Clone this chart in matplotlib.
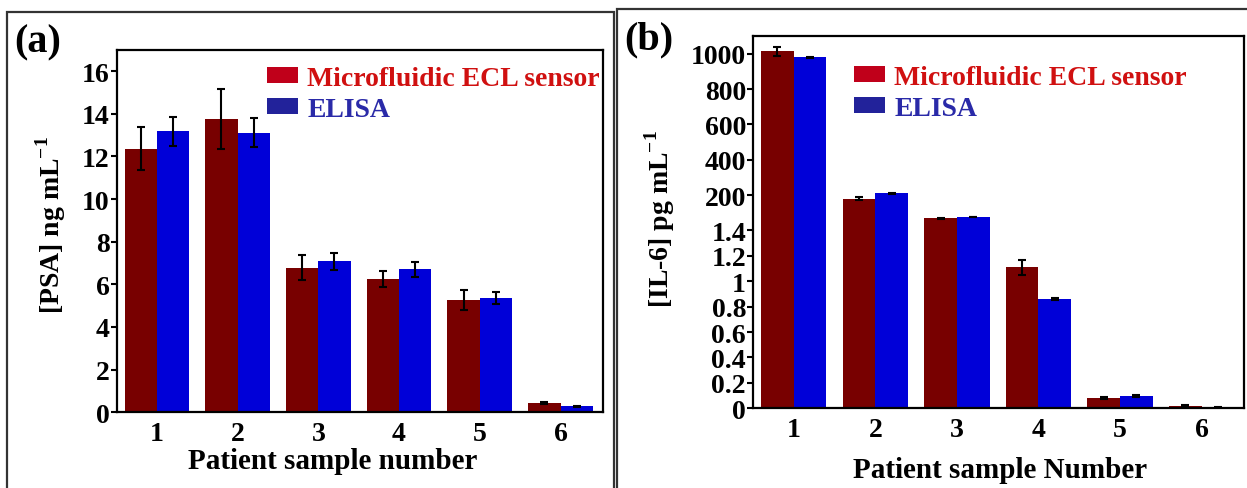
import numpy as np
import matplotlib
matplotlib.use("Agg")
import matplotlib.pyplot as plt
from matplotlib.patches import Rectangle, Patch
from matplotlib.ticker import FixedLocator, FixedFormatter

plt.rcParams['font.family'] = ['Liberation Serif', 'DejaVu Serif']
plt.rcParams['font.weight'] = 'bold'
plt.rcParams['mathtext.fontset'] = 'custom'
plt.rcParams['mathtext.rm'] = 'Liberation Serif'
plt.rcParams['mathtext.bf'] = 'Liberation Serif:bold'

# ---------------- data ----------------
samples = [1, 2, 3, 4, 5, 6]
series_names = ["Microfluidic ECL sensor", "ELISA"]

psa_ecl = [12.36, 13.75, 6.78, 6.26, 5.26, 0.42]
psa_ecl_err = [1.0, 1.4, 0.6, 0.38, 0.47, 0.05]
psa_elisa = [13.17, 13.11, 7.08, 6.70, 5.37, 0.28]
psa_elisa_err = [0.68, 0.68, 0.40, 0.36, 0.28, 0.03]
psa_yticks = [0, 2, 4, 6, 8, 10, 12, 14, 16]

il6_ecl = [1015, 179, 68, 1.11, 0.081, 0.02]
il6_ecl_err = [25, 8, 1.0, 0.06, 0.01, 0.005]
il6_elisa = [981, 211, 74, 0.86, 0.094, 0.005]
il6_elisa_err = [3, 3, 1.0, 0.005, 0.008, 0.003]
il6_yticks = [0, 0.2, 0.4, 0.6, 0.8, 1, 1.2, 1.4, 200, 400, 600, 800, 1000]
il6_yticklabels = ["0", "0.2", "0.4", "0.6", "0.8", "1", "1.2", "1.4",
                   "200", "400", "600", "800", "1000"]

# ---------------- style ----------------
C_BAR_RED = "#780000"
C_BAR_BLUE = "#0000d8"
C_LEG_RED = "#c0001a"
C_LEG_BLUE = "#22229a"
C_TXT_RED = "#d01010"
C_TXT_BLUE = "#2a2aa8"

TICK_FS = 20
LEG_FS = 20
LAB_FS = 21
YLAB_FS = 20
PANEL_FS = 29

fig = plt.figure(figsize=(12.47, 4.89), dpi=100)
W, H = 1247.0, 489.0


def ax_rect(l, t, r, b):
    return [l / W, 1 - b / H, (r - l) / W, (b - t) / H]


def fx(px):
    return px / W


def fy(py):
    return 1 - py / H


# broken-style y scale for panel (b)
BRK = 1.4
RATIO = 35.34 / 25.47


def fwd(v):
    v = np.asarray(v, dtype=float)
    return np.where(v <= BRK, v / 0.2, 7 + v / 200.0 * RATIO)


def inv(d):
    d = np.asarray(d, dtype=float)
    lim = 7 + BRK / 200.0 * RATIO
    return np.where(d <= 7, d * 0.2, np.where(d < lim, BRK, (d - 7) * 200.0 / RATIO))


def style_axes(ax):
    for s in ax.spines.values():
        s.set_linewidth(1.6)
    ax.tick_params(axis='y', direction='out', length=4, width=1.5, labelsize=TICK_FS, pad=1)
    ax.tick_params(axis='x', length=0, labelsize=TICK_FS, pad=6)
    for lab in ax.get_xticklabels() + ax.get_yticklabels():
        lab.set_fontweight('bold')


def draw_bars(ax, a, ae, b, be):
    x = np.array(samples, dtype=float)
    ekw = dict(elinewidth=1.5, capthick=1.5, ecolor='black')
    ax.bar(x - 0.2, a, width=0.4, color=C_BAR_RED, yerr=ae, capsize=3.2,
           error_kw=ekw, zorder=2)
    ax.bar(x + 0.2, b, width=0.4, color=C_BAR_BLUE, yerr=be, capsize=3.2,
           error_kw=ekw, zorder=2)


def add_legend(ax, left_px, top_px):
    handles = [Patch(facecolor=C_LEG_RED, edgecolor='none'),
               Patch(facecolor=C_LEG_BLUE, edgecolor='none')]
    leg = ax.legend(handles, series_names, loc='upper left', frameon=False,
                    prop={'family': 'Liberation Serif', 'weight': 'bold', 'size': LEG_FS},
                    handlelength=1.1, handleheight=0.5, handletextpad=0.35,
                    labelspacing=0.22, borderaxespad=0.0, borderpad=0.0,
                    bbox_to_anchor=(fx(left_px), fy(top_px)),
                    bbox_transform=fig.transFigure)
    leg.get_texts()[0].set_color(C_TXT_RED)
    leg.get_texts()[1].set_color(C_TXT_BLUE)
    return leg


def place_labels(ax, xl_center, yl_center):
    ax.xaxis.set_label_coords(fx(xl_center[0]), fy(xl_center[1]), transform=fig.transFigure)
    ax.yaxis.set_label_coords(fx(yl_center[0]), fy(yl_center[1]), transform=fig.transFigure)
    ax.xaxis.label.set_verticalalignment('center')
    ax.yaxis.label.set_verticalalignment('center')
    ax.yaxis.label.set_horizontalalignment('center')


# ---------------- panel (a) ----------------
axA = fig.add_axes(ax_rect(116.5, 50.7, 602.5, 413.3))
draw_bars(axA, psa_ecl, psa_ecl_err, psa_elisa, psa_elisa_err)
axA.set_xlim(0.5, 6.52)
axA.set_ylim(0, 17)
axA.set_yticks(psa_yticks)
axA.set_xticks(samples)
style_axes(axA)
axA.set_xlabel("Patient sample number", fontsize=LAB_FS, fontweight='bold')
axA.set_ylabel(r"[PSA] ng mL$^{\mathbf{-1}}$", fontsize=YLAB_FS, fontweight='bold')
place_labels(axA, (333, 462), (51, 225))
add_legend(axA, 267, 67)

# ---------------- panel (b) ----------------
axB = fig.add_axes(ax_rect(753, 37.3, 1244, 409.3))
axB.set_yscale('function', functions=(fwd, inv))
draw_bars(axB, il6_ecl, il6_ecl_err, il6_elisa, il6_elisa_err)
axB.set_xlim(0.5, 6.52)
axB.set_ylim(0, 1100)
axB.yaxis.set_major_locator(FixedLocator(il6_yticks))
axB.yaxis.set_major_formatter(FixedFormatter(il6_yticklabels))
axB.yaxis.set_minor_locator(FixedLocator([]))
axB.set_xticks(samples)
style_axes(axB)
axB.set_xlabel("Patient sample Number", fontsize=LAB_FS, fontweight='bold')
axB.set_ylabel(r"[IL-6] pg mL$^{\mathbf{-1}}$", fontsize=YLAB_FS, fontweight='bold')
place_labels(axB, (1000, 471), (660, 219))
add_legend(axB, 854, 66)

# ---------------- panel labels & frames ----------------
fig.text(fx(14), fy(43), "(a)", fontsize=PANEL_FS, fontweight='bold', va='center', ha='left')
fig.text(fx(624), fy(40), "(b)", fontsize=PANEL_FS, fontweight='bold', va='center', ha='left')

fig.patches.append(Rectangle((fx(7), -0.1), fx(614) - fx(7), 1.1 - 12.7 / H,
                             transform=fig.transFigure, fill=False,
                             edgecolor='#333333', linewidth=1.6))
fig.patches.append(Rectangle((fx(617), -0.1), 0.6, 1.1 - 10 / H,
                             transform=fig.transFigure, fill=False,
                             edgecolor='#333333', linewidth=1.6))

fig.savefig("out.png", dpi=100)
